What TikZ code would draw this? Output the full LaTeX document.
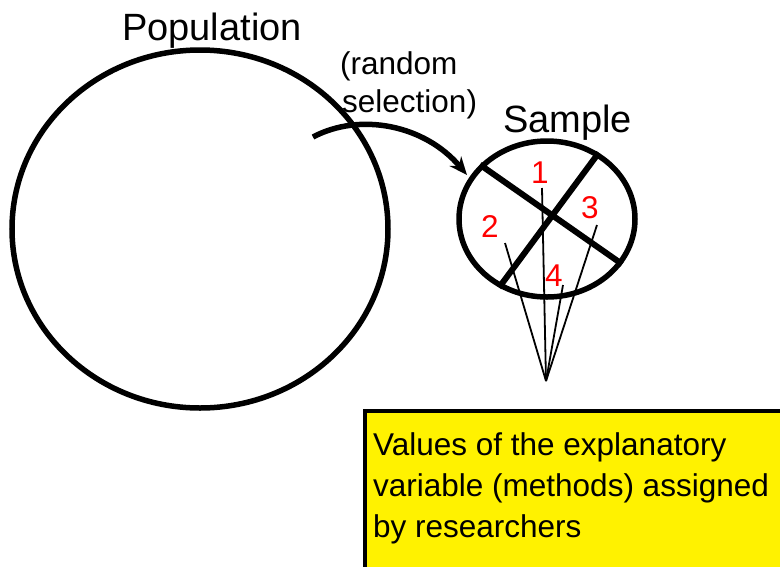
\documentclass[tikz,border=0pt]{standalone}
\usepackage{fontspec}
\setmainfont{Liberation Sans}
\usetikzlibrary{shapes.geometric,arrows.meta}
\begin{document}
\begin{tikzpicture}[x=1pt,y=-1pt,
  bigtxt/.style={font=\fontsize{38}{40}\selectfont, inner sep=0pt, anchor=base west},
  midtxt/.style={font=\fontsize{31.5}{36}\selectfont, inner sep=0pt, anchor=base west},
  numtxt/.style={font=\fontsize{31.5}{36}\selectfont, inner sep=0pt, anchor=base, text=red},
  ring/.style={draw, ellipse, line width=5.5pt, inner sep=0pt},
  thin/.style={line width=1.8pt},
  cross/.style={line width=6pt}]
\useasboundingbox (0,0) rectangle (780,566);
\begin{scope}
\clip (0,0) rectangle (780,566);
\fill[white] (0,0) rectangle (780,566);
% population
\node[ring, minimum width=376pt, minimum height=358pt] (pop) at (200,229) {};
\node[bigtxt] (poplab) at (122,40) {Population};
% sample
\node[ring, minimum width=176pt, minimum height=156pt] (samp) at (547,219) {};
\node[bigtxt] (samplab) at (503,132) {Sample};
% random selection
\node[midtxt] (rs1) at (340,74) {(random};
\node[midtxt] (rs2) at (342,112) {selection)};
\coordinate (arrstart) at (313,137);
\coordinate (arrend) at (467,175);
\draw[line width=5.5pt, -{Stealth[length=18pt,width=15pt]}] (arrstart) .. controls (360,112) and (425,125) .. (arrend);
% cross
\draw[cross] (samp.141) -- (samp.-31);
\draw[cross] (samp.52) -- (samp.235);
% thin lines
\coordinate (conv) at (546,381);
\coordinate (t1) at (542,188);
\coordinate (t2) at (505,243);
\coordinate (t3) at (597,225);
\coordinate (t4) at (563,285);
\draw[thin] (t1) -- (conv);
\draw[thin] (t2) -- (conv);
\draw[thin] (t3) -- (conv);
\draw[thin] (t4) -- (conv);
% numbers
\node[numtxt] (n1) at (540,183) {1};
\node[numtxt] (n2) at (490,237) {2};
\node[numtxt] (n3) at (590,218) {3};
\node[numtxt] (n4) at (554,286) {4};
% box
\draw[line width=4pt, fill=yellow] (365,411) rectangle (800,600);
\node[midtxt] (b1) at (373,455) {Values of the explanatory};
\node[midtxt] (b2) at (373,496) {variable (methods) assigned};
\node[midtxt] (b3) at (373,537) {by researchers};
\end{scope}
\end{tikzpicture}
\end{document}
